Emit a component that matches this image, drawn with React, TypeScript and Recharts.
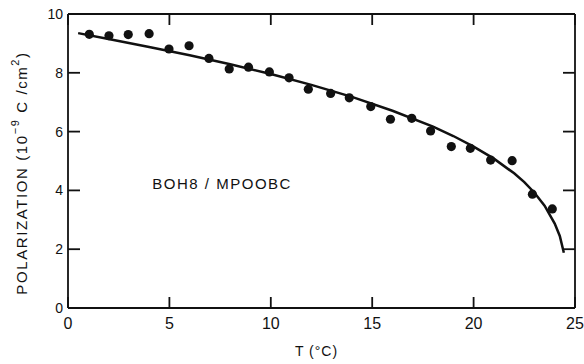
import { ScatterChart, Scatter, XAxis, YAxis, ReferenceDot } from 'recharts'

// measured points (T in °C, polarization in 10^-9 C/cm^2)
const tempPoints = [1.05, 2.02, 2.97, 4.0, 4.98, 5.97, 6.95, 7.95, 8.9, 9.93, 10.9, 11.85, 12.95, 13.87, 14.93, 15.9, 16.95, 17.88, 18.9, 19.84, 20.84, 21.9, 22.9, 23.88]
const polPoints = [9.31, 9.26, 9.3, 9.33, 8.81, 8.92, 8.49, 8.13, 8.19, 8.03, 7.83, 7.44, 7.3, 7.15, 6.85, 6.42, 6.45, 6.02, 5.49, 5.43, 5.03, 5.01, 3.87, 3.37]

// fitted curve
const tempCurve = [0.5, 2, 4, 6, 8, 10, 12, 14, 16, 18, 19, 20, 21, 22, 22.5, 23, 23.5, 24, 24.25, 24.45]
const polCurve = [9.35, 9.15, 8.88, 8.6, 8.29, 7.96, 7.59, 7.18, 6.71, 6.17, 5.85, 5.49, 5.08, 4.58, 4.28, 3.92, 3.48, 2.87, 2.45, 1.88]

const xTicks = [0, 5, 10, 15, 20, 25]
const yTicks = [0, 2, 4, 6, 8, 10]

const sampleLabel = 'BOH8 / MPOOBC'
const sampleAt = { t: 7.6, p: 4.25 }

const INK = '#111'
const FONT = '"Liberation Sans", Arial, sans-serif'
const TICK = 11
const LW = 1.8

const points = tempPoints.map((t, i) => ({ t, p: polPoints[i] }))
const curve = tempCurve.map((t, i) => ({ t, p: polCurve[i] }))

const noShape = () => <g />

// ticks point inward, so draw line + label ourselves
const BottomTick = (props: any) => {
  const { x, y, payload } = props
  return (
    <g>
      <path d={`M${x},${y}V${y - TICK}`} stroke={INK} strokeWidth={LW} fill="none" />
      <text x={x} y={y + 21} textAnchor="middle" fill={INK} fontSize={16} fontFamily={FONT}>
        {payload.value}
      </text>
    </g>
  )
}

const TopTick = (props: any) => (
  <path d={`M${props.x},${props.y}V${props.y + TICK}`} stroke={INK} strokeWidth={LW} fill="none" />
)

const LeftTick = (props: any) => {
  const { x, y, payload } = props
  return (
    <g>
      <path d={`M${x},${y}H${x + 12}`} stroke={INK} strokeWidth={LW} fill="none" />
      <text x={x - 5} y={y + 5} textAnchor="end" fill={INK} fontSize={14} fontFamily={FONT}>
        {payload.value}
      </text>
    </g>
  )
}

const RightTick = (props: any) => (
  <path d={`M${props.x},${props.y}H${props.x - 12}`} stroke={INK} strokeWidth={LW} fill="none" />
)

const YLabel = (props: any) => {
  const vb = props.viewBox
  const x = vb.x + vb.width - 47
  const y = vb.y + vb.height / 2 + 12
  return (
    <text
      x={x}
      y={y}
      transform={`rotate(-90, ${x}, ${y})`}
      textAnchor="middle"
      dominantBaseline="central"
      fill={INK}
      fontSize={15}
      fontFamily={FONT}
      letterSpacing={1.6}
    >
      POLARIZATION (10
      <tspan dy={-6} fontSize={11}>−9</tspan>
      <tspan dy={6}> C /cm</tspan>
      <tspan dy={-6} fontSize={11}>2</tspan>
      <tspan dy={6}>)</tspan>
    </text>
  )
}

const SampleLabel = (props: any) => {
  const vb = props.viewBox
  return (
    <text
      x={vb.x}
      y={vb.y}
      textAnchor="middle"
      dominantBaseline="central"
      fill={INK}
      fontSize={15}
      fontFamily={FONT}
      letterSpacing={1.5}
    >
      {sampleLabel}
    </text>
  )
}

export default function App() {
  const axisLine = { stroke: INK, strokeWidth: LW }
  return (
    <div style={{ position: 'absolute', left: 0, top: 0, background: '#fff' }}>
      <ScatterChart
        width={584}
        height={364}
        margin={{ top: 12, right: 7, bottom: 26, left: 28 }}
      >
        <XAxis
          type="number"
          dataKey="t"
          domain={[0, 25]}
          ticks={xTicks}
          height={30}
          axisLine={axisLine}
          tickLine={false}
          tickSize={0}
          tickMargin={0}
          tick={<BottomTick />}
          label={{ value: 'T (°C)', position: 'insideBottom', offset: -18, fill: INK, fontSize: 14, fontFamily: FONT, letterSpacing: 1, dx: -5 }}
        />
        <XAxis
          xAxisId="top"
          orientation="top"
          type="number"
          dataKey="t"
          domain={[0, 25]}
          ticks={xTicks}
          height={2}
          axisLine={axisLine}
          tickLine={false}
          tickSize={0}
          tickMargin={0}
          tick={<TopTick />}
        />
        <YAxis
          type="number"
          dataKey="p"
          domain={[0, 10]}
          ticks={yTicks}
          width={40}
          axisLine={axisLine}
          tickLine={false}
          tickSize={0}
          tickMargin={0}
          tick={<LeftTick />}
          label={<YLabel />}
        />
        <YAxis
          yAxisId="right"
          orientation="right"
          type="number"
          dataKey="p"
          domain={[0, 10]}
          ticks={yTicks}
          width={2}
          axisLine={axisLine}
          tickLine={false}
          tickSize={0}
          tickMargin={0}
          tick={<RightTick />}
        />
        <Scatter
          data={curve}
          xAxisId="top"
          yAxisId="right"
          line={{ stroke: INK, strokeWidth: 2.5, fill: 'none' }}
          lineType="joint"
          shape={noShape}
          isAnimationActive={false}
        />
        <Scatter data={points} fill={INK} isAnimationActive={false} shape={(p: any) => <circle cx={p.cx} cy={p.cy} r={4.6} fill={INK} />} />
        <ReferenceDot x={sampleAt.t} y={sampleAt.p} r={0} stroke="none" label={<SampleLabel />} />
      </ScatterChart>
    </div>
  )
}
